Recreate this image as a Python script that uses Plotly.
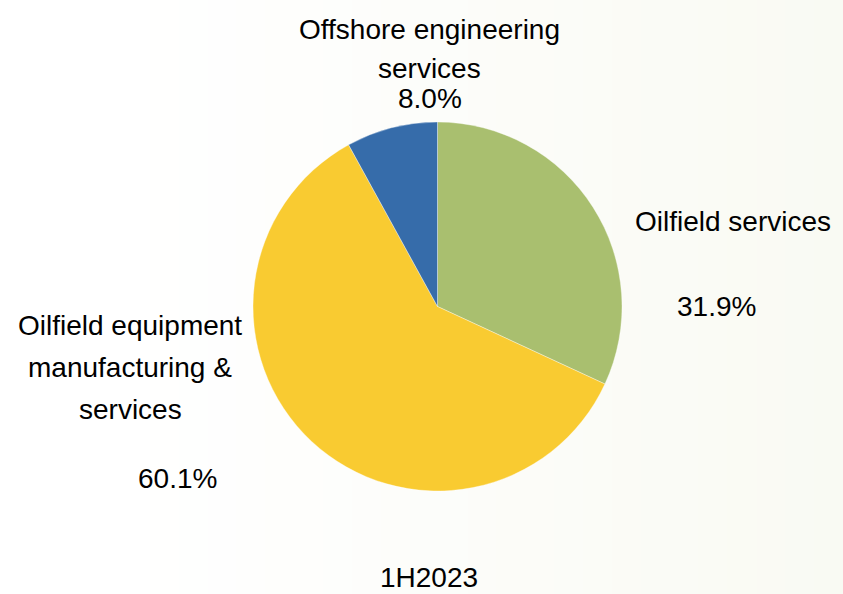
import plotly.graph_objects as go

W, H = 843, 594

# Segment shares for 1H2023 (%)
segments = ["Oilfield services", "Oilfield equipment manufacturing & services", "Offshore engineering services"]
shares = [31.9, 60.1, 8.0]
colors = ["#A9BF6F", "#F9CB31", "#366CAA"]
period = "1H2023"

def px(x):
    return x / W

def py(y):
    return 1 - y / H

fig = go.Figure()
fig.add_trace(go.Pie(
    labels=segments,
    values=shares,
    sort=False,
    direction="clockwise",
    rotation=0,
    marker=dict(colors=colors, line=dict(color="rgba(255,255,255,0.6)", width=0.6)),
    textinfo="none",
    hoverinfo="skip",
    showlegend=False,
    domain=dict(x=[px(253), px(622)], y=[py(491), py(122)]),
))

# faint warm background that deepens toward the right edge
shapes = []
n_bands = 24
start, end = 150, W
for i in range(n_bands):
    x0 = start + (end - start) * i / n_bands
    x1 = start + (end - start) * (i + 1) / n_bands + 1
    t = (i + 1) / n_bands
    r = round(255 - 6 * t)
    g = round(255 - 5 * t)
    b = round(255 - 12 * t)
    shapes.append(dict(type="rect", xref="paper", yref="paper", layer="below",
                       x0=px(x0), x1=px(min(x1, W)), y0=0, y1=1,
                       fillcolor=f"rgb({r},{g},{b})", line=dict(width=0)))

FONT = dict(family="Liberation Sans, Arial, sans-serif", size=28, color="#000000")

# Text lines: (text, center x px, middle y px)
text_lines = [
    ("Offshore engineering", 429, 29),
    ("services", 429, 69),
    (f"{shares[2]:.1f}%", 430, 99),
    ("Oilfield services", 733, 221),
    (f"{shares[0]:.1f}%", 716, 306),
    ("Oilfield equipment", 130, 325),
    ("manufacturing &", 130, 367),
    ("services", 130, 409),
    (f"{shares[1]:.1f}%", 177, 478),
    (period, 429, 577),
]
annotations = [
    dict(text=t, x=px(x), y=py(y), xref="paper", yref="paper",
         xanchor="center", yanchor="middle", showarrow=False, font=FONT)
    for t, x, y in text_lines
]

fig.update_layout(
    width=W, height=H,
    margin=dict(l=0, r=0, t=0, b=0),
    paper_bgcolor="#FFFFFF",
    plot_bgcolor="#FFFFFF",
    shapes=shapes,
    annotations=annotations,
)

fig.write_html("out.html", config={"displayModeBar": False})
